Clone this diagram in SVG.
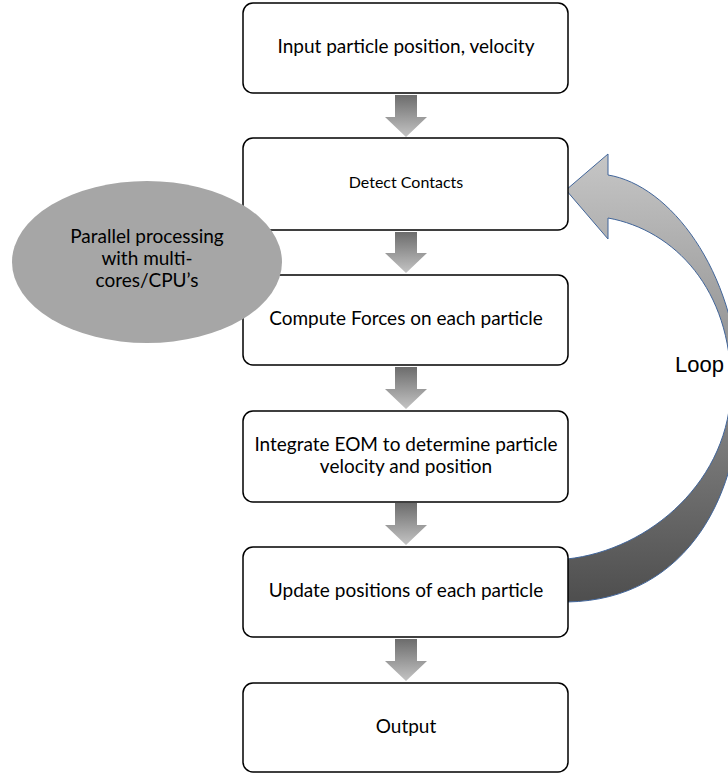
<svg xmlns="http://www.w3.org/2000/svg" width="728" height="773" viewBox="0 0 728 773">
  <style>
    .box { fill: #ffffff; stroke: #000000; stroke-width: 1.5; }
    .t { font-family: Lato, "Open Sans", sans-serif; font-size: 19px; fill: #000000; text-anchor: middle; }
    .ts { font-family: Lato, "Open Sans", sans-serif; font-size: 16px; fill: #000000; text-anchor: middle; }
    .blk { fill: url(#gArrow); }
    .loop { fill: url(#gLoop); stroke: #41659a; stroke-width: 1; }
    .lbl { font-family: "Liberation Sans", Arial, sans-serif; font-size: 22px; fill: #000000; }
  </style>
  <defs>
    <linearGradient id="gArrow" x1="0" y1="0" x2="0" y2="1">
      <stop offset="0" stop-color="#6c6c6c"/>
      <stop offset="1" stop-color="#c4c4c4"/>
    </linearGradient>
    <linearGradient id="gLoop" gradientUnits="userSpaceOnUse" x1="0" y1="154" x2="0" y2="602">
      <stop offset="0" stop-color="#c6c6c6"/>
      <stop offset="0.5" stop-color="#8c8c8c"/>
      <stop offset="1" stop-color="#4e4e4e"/>
    </linearGradient>
  </defs>

  <g id="connectors">
    <path class="blk" d="M395,95 H417 V117 H427 L406,137 L385,117 H395 Z"/>
    <path class="blk" d="M395,232 H417 V253 H427 L406,273 L385,253 H395 Z"/>
    <path class="blk" d="M395,367 H417 V389 H427 L406,409 L385,389 H395 Z"/>
    <path class="blk" d="M395,503 H417 V525 H427 L406,545 L385,525 H395 Z"/>
    <path class="blk" d="M395,639 H417 V661 H427 L406,681 L385,661 H395 Z"/>
    <path id="loop-arrow" class="loop" d="M567,602 C690,600 742,490 740,385 C735,270 670,185 608,175 L608,154 L566,190 L608,239 L608,218 C675,230 731,290 731,385 C731,480 650,550 567,559 Z"/>
    <text class="lbl" x="675" y="372">Loop</text>
  </g>

  <g id="node-input">
    <rect class="box" x="243" y="3" width="325" height="90" rx="10"/>
    <text class="t" x="406" y="53">Input particle position, velocity</text>
  </g>
  <g id="node-detect">
    <rect class="box" x="243" y="138" width="325" height="92" rx="10"/>
    <text class="ts" x="406" y="188">Detect Contacts</text>
  </g>
  <g id="node-forces">
    <rect class="box" x="243" y="275" width="325" height="90" rx="10"/>
    <text class="t" x="406" y="325">Compute Forces on each particle</text>
  </g>
  <g id="node-integrate">
    <rect class="box" x="243" y="411" width="325" height="91" rx="10"/>
    <text class="t" x="406" y="451">Integrate EOM to determine particle</text>
    <text class="t" x="406" y="473">velocity and position</text>
  </g>
  <g id="node-update">
    <rect class="box" x="243" y="547" width="325" height="90" rx="10"/>
    <text class="t" x="406" y="597">Update positions of each particle</text>
  </g>
  <g id="node-output">
    <rect class="box" x="243" y="683" width="325" height="89" rx="10"/>
    <text class="t" x="406" y="733">Output</text>
  </g>
  <g id="node-parallel">
    <ellipse cx="147" cy="262" rx="135" ry="81" fill="#a6a6a6"/>
    <text class="t" x="147" y="243">Parallel processing</text>
    <text class="t" x="147" y="265">with multi-</text>
    <text class="t" x="147" y="287">cores/CPU’s</text>
  </g>
</svg>
